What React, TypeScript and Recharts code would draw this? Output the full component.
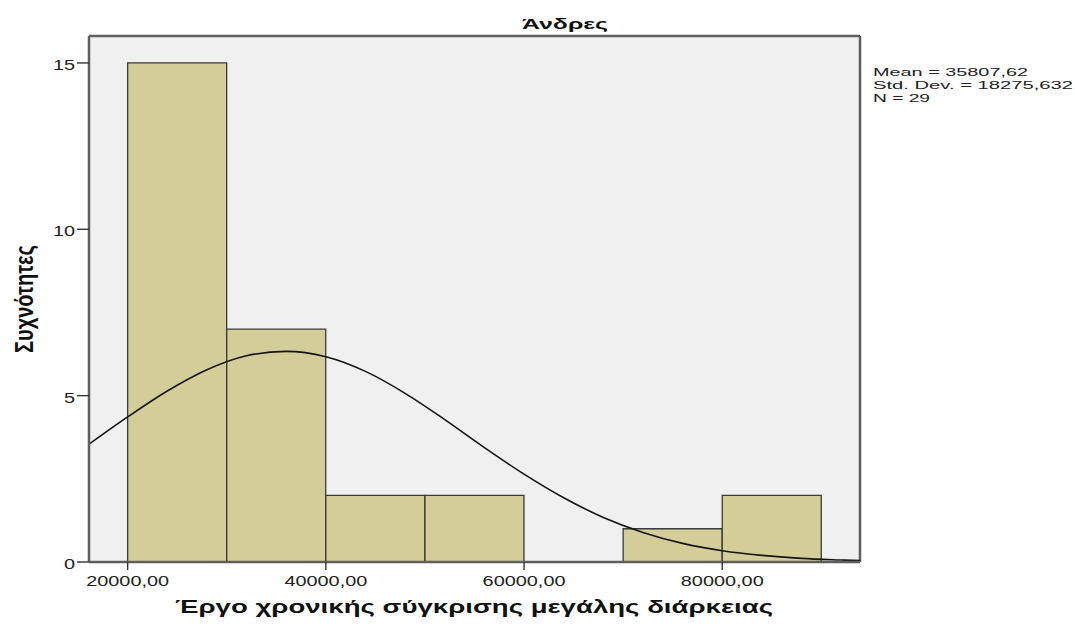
import { ComposedChart, Bar, Line, XAxis, YAxis, CartesianGrid } from 'recharts';

// histogram bins (centre of each 10000-wide bin) and frequencies
const binCenters = [25000, 35000, 45000, 55000, 75000, 85000];
const binCounts = [15, 7, 2, 2, 1, 2];

// fitted normal curve
const curveX = [16100, 20000, 24000, 28000, 32000, 36000, 40000, 44000, 48000, 52000, 56000, 60000, 64000, 68000, 72000, 76000, 80000, 84000, 88000, 92000, 93900];
const curveY = [3.54, 4.36, 5.14, 5.78, 6.2, 6.33, 6.17, 5.73, 5.07, 4.28, 3.44, 2.64, 1.93, 1.34, 0.89, 0.56, 0.34, 0.2, 0.11, 0.06, 0.04];

const xTicks = [20000, 40000, 60000, 80000];
const yTicks = [0, 5, 10, 15];
const xDomain = [16100, 93900];
const yDomain = [0, 15.81];

const statsLines = ['Mean = 35807,62', 'Std. Dev. = 18275,632', 'N = 29'];
const statsWidths = [155, 200, 57];

const title = 'Άνδρες';
const xTitle = 'Έργο χρονικής σύγκρισης μεγάλης διάρκειας';
const yTitle = 'Συχνότητες';

const bins = binCenters.map((x, i) => ({ x, count: binCounts[i] }));
const curve = curveX.map((x, i) => ({ x, y: curveY[i] }));

const FONT = "'Liberation Sans', Arial, sans-serif";
const STRETCH = 1.42;
const axisLineStyle = { stroke: '#5e5e5e', strokeWidth: 2.5 };
const tickLineStyle = { stroke: '#333', strokeWidth: 1.4 };

const fmt = (v: number) => v.toFixed(2).replace('.', ',');

const XTick = (props: any) => {
  const { x, y, payload } = props;
  return (
    <text
      transform={`translate(${x},${y + 14}) scale(${STRETCH},1)`}
      textAnchor="middle"
      fontFamily={FONT}
      fontSize={14}
      fill="#222"
    >
      {fmt(payload.value)}
    </text>
  );
};

const YTick = (props: any) => {
  const { x, y, payload } = props;
  return (
    <text
      transform={`translate(${x},${y + 7}) scale(${STRETCH},1)`}
      textAnchor="end"
      fontFamily={FONT}
      fontSize={14}
      fill="#222"
    >
      {payload.value}
    </text>
  );
};

export default function App() {
  return (
    <div style={{ position: 'absolute', left: 0, top: 0, width: 1075, height: 624, background: '#fff' }}>
      <ComposedChart
        width={1075}
        height={624}
        data={bins}
        margin={{ top: 36, right: 215, bottom: 32, left: 49 }}
        barCategoryGap={0}
        barGap={0}
      >
        {/* plot background plus the top and right frame lines */}
        <CartesianGrid
          fill="#F0F0F0"
          stroke="#5e5e5e"
          strokeWidth={2.5}
          horizontalValues={[yDomain[1]]}
          verticalValues={[xDomain[1]]}
        />
        <XAxis
          dataKey="x"
          type="number"
          domain={xDomain}
          ticks={xTicks}
          allowDataOverflow
          height={30}
          tickSize={8}
          tickMargin={2}
          axisLine={axisLineStyle}
          tickLine={tickLineStyle}
          tick={<XTick />}
        />
        <XAxis xAxisId="bins" dataKey="x" type="number" domain={xDomain} allowDataOverflow hide />
        <YAxis
          type="number"
          domain={yDomain}
          ticks={yTicks}
          allowDataOverflow
          width={40}
          tickSize={12}
          tickMargin={2}
          axisLine={axisLineStyle}
          tickLine={tickLineStyle}
          tick={<YTick />}
        />
        <Bar
          xAxisId="bins"
          dataKey="count"
          fill="#D3CE97"
          stroke="#3a3a3a"
          strokeWidth={1.3}
          isAnimationActive={false}
        />
        <Line
          data={curve}
          dataKey="y"
          type="monotone"
          stroke="#141414"
          strokeWidth={1.6}
          dot={false}
          activeDot={false}
          isAnimationActive={false}
        />
      </ComposedChart>
      <svg
        width={1075}
        height={624}
        style={{ position: 'absolute', left: 0, top: 0, pointerEvents: 'none' }}
      >
        <text x={565} y={29} textAnchor="middle" fontFamily={FONT} fontWeight="bold" fontSize={14} textLength={86} lengthAdjust="spacingAndGlyphs" fill="#111">
          {title}
        </text>
        {statsLines.map((s, i) => (
          <text key={s} x={873} y={76 + i * 13} fontFamily={FONT} fontSize={11.5} textLength={statsWidths[i]} lengthAdjust="spacingAndGlyphs" fill="#222">
            {s}
          </text>
        ))}
        <text x={474} y={613} textAnchor="middle" fontFamily={FONT} fontWeight="bold" fontSize={17.5} textLength={598} lengthAdjust="spacingAndGlyphs" fill="#111">
          {xTitle}
        </text>
        <text
          transform={`translate(33,299) scale(${STRETCH},1) rotate(-90)`}
          textAnchor="middle"
          fontFamily={FONT}
          fontWeight="bold"
          fontSize={18}
          textLength={108}
          lengthAdjust="spacingAndGlyphs"
          fill="#111"
        >
          {yTitle}
        </text>
      </svg>
    </div>
  );
}
